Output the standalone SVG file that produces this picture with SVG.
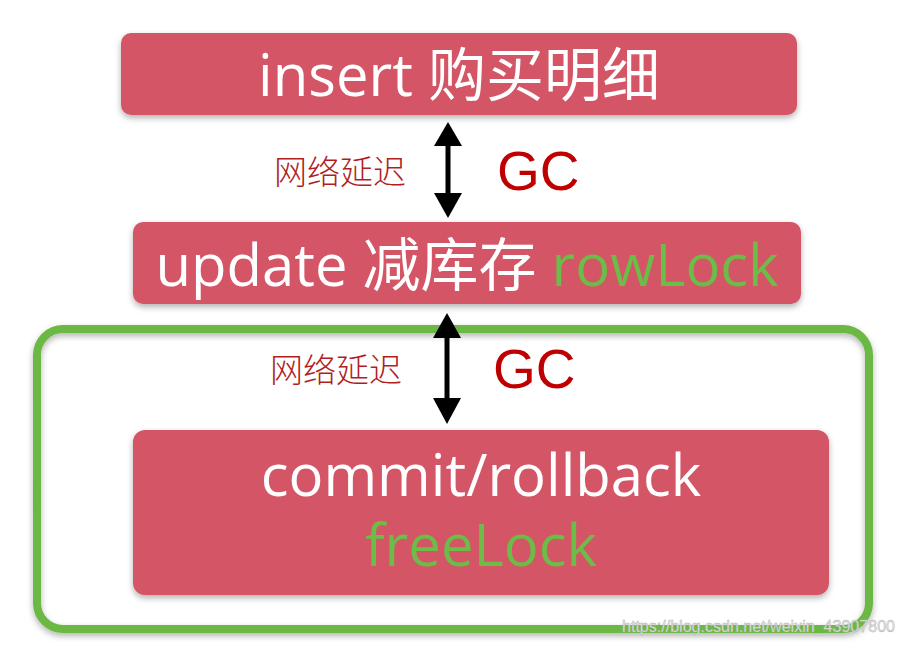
<svg xmlns="http://www.w3.org/2000/svg" width="905" height="647" viewBox="0 0 905 647">
  <defs>
    <filter id="sh" x="-5%" y="-10%" width="110%" height="130%">
      <feDropShadow dx="0" dy="3" stdDeviation="3" flood-color="#000" flood-opacity="0.3"/>
    </filter>
  </defs>
  <style>
    .box { fill: #d35566; filter: url(#sh); }
    .main { font-family: "Open Sans", "Noto Sans CJK SC", sans-serif; font-size: 58px; fill: #fff; text-anchor: middle; }
    .green { fill: #6cbd48; }
    .lbl { font-family: "Noto Sans CJK SC", sans-serif; font-size: 33px; fill: #b01e1e; font-weight: 300; }
    .gc { font-family: "Liberation Sans", sans-serif; font-size: 55px; fill: #c00000; }
    .arrow { stroke: #000; stroke-width: 5; fill: none; }
  </style>
  <rect width="905" height="647" fill="#fff"/>

  <g id="frame">
    <rect x="37" y="329" width="832" height="300" rx="26" ry="26" fill="none" stroke="#6cb844" stroke-width="8" filter="url(#sh)"/>
  </g>

  <g id="node-insert">
    <rect class="box" x="121" y="33" width="676" height="82" rx="10"/>
    <text class="main" x="459" y="96">insert 购买明细</text>
  </g>

  <g id="node-update">
    <rect class="box" x="133" y="222" width="668" height="82" rx="10"/>
    <text class="main" x="467" y="286" font-size="59">update 减库存 <tspan class="green">rowLock</tspan></text>
  </g>

  <g id="node-commit">
    <rect class="box" x="133" y="430" width="696" height="165" rx="12"/>
    <text class="main" x="481" y="496" font-size="59">commit/rollback</text>
    <text class="main green" x="481" y="566" font-size="59">freeLock</text>
  </g>

  <g id="connectors">
    <line class="arrow" x1="448" y1="141" x2="448" y2="198"/>
    <path d="M434,146 L448,122 L462,146 Z" fill="#000"/>
    <path d="M434,193 L448,218 L462,193 Z" fill="#000"/>
    <line class="arrow" x1="447" y1="334" x2="447" y2="402"/>
    <path d="M433,338 L447,313 L461,338 Z" fill="#000"/>
    <path d="M433,398 L447,424 L461,398 Z" fill="#000"/>
  </g>

  <g id="labels">
    <text class="lbl" x="274" y="184">网络延迟</text>
    <text class="gc" x="497" y="190">GC</text>
    <text class="lbl" x="270" y="382">网络延迟</text>
    <text class="gc" x="493" y="388">GC</text>
  </g>

  <text x="622" y="632" font-family="Liberation Sans, sans-serif" font-size="17" fill="#e4e4e4" stroke="#aaa" stroke-width="0.4" textLength="273" lengthAdjust="spacingAndGlyphs">https://blog.csdn.net/weixin_43907800</text>
</svg>
